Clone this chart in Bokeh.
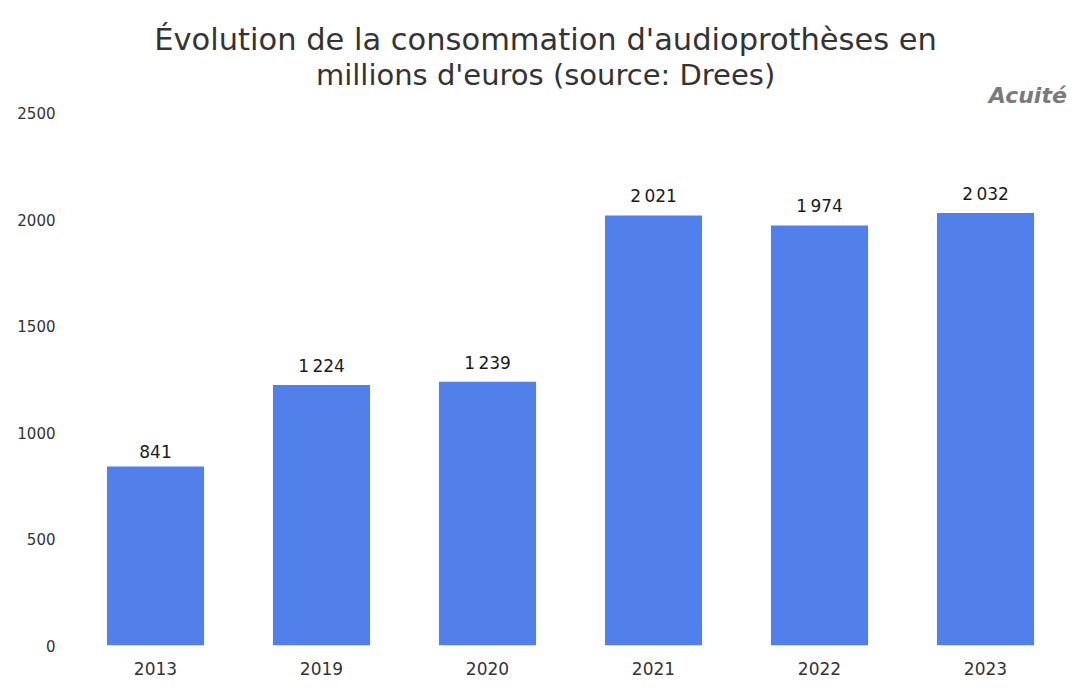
from bokeh.plotting import figure
from bokeh.models import ColumnDataSource, FactorRange, Range1d, FixedTicker
from bokeh.core.properties import value
from bokeh.embed import file_html
from bokeh.resources import INLINE

years = ["2013", "2019", "2020", "2021", "2022", "2023"]
values = [841, 1224, 1239, 2021, 1974, 2032]
labels = [f"{v:,}".replace(",", "\u202f") for v in values]
y_ticks = [0, 500, 1000, 1500, 2000, 2500]
title_line1 = "Évolution de la consommation d'audioprothèses en"
title_line2 = "millions d'euros (source: Drees)"
brand = "Acuité"

FONT = "DejaVu Sans"
BAR = "#5280EA"

# frame covers the full height; ticks stop at 2500, the top part holds the titles
Y_TOP = 3031

src = ColumnDataSource(dict(x=years, top=values, lab=labels))

p = figure(x_range=FactorRange(*years), y_range=Range1d(0, Y_TOP),
           width=1088, height=690, output_backend="svg", toolbar_location=None,
           min_border_left=72, min_border_right=20, min_border_top=0, min_border_bottom=45)
p.outline_line_color = None
p.background_fill_color = "white"
p.border_fill_color = "white"
p.xgrid.grid_line_color = None
p.ygrid.grid_line_color = None

p.vbar(x="x", top="top", width=0.585, source=src, fill_color=BAR, line_color=None)
p.text(x="x", y="top", text="lab", source=src, text_align="center", text_baseline="bottom",
       y_offset=-9, text_font=value(FONT), text_font_size="17px", text_color="#1a1a1a")

for ax in (p.xaxis, p.yaxis):
    ax.axis_line_color = None
    ax.major_tick_line_color = None
    ax.minor_tick_line_color = None
    ax.major_label_text_font = FONT
    ax.major_label_text_color = "#333333"
p.yaxis.ticker = FixedTicker(ticks=y_ticks)
p.yaxis.major_label_text_font_size = "15px"
p.yaxis.major_label_standoff = 11
p.xaxis.major_label_text_font_size = "17px"
p.xaxis.major_label_standoff = 10

p.text(x=[2.85], y=[2848], text=[title_line1], text_align="center",
       text_baseline="middle", text_font=value(FONT), text_font_size="30.5px",
       text_color="#333333")
p.text(x=[2.85], y=[2682], text=[title_line2], text_align="center",
       text_baseline="middle", text_font=value(FONT), text_font_size="29px",
       text_color="#333333")
p.text(x=[5.99], y=[2584], text=[brand], text_align="right", text_baseline="middle",
       text_font=value("DejaVu Sans"), text_font_style="bold italic",
       text_font_size="22px", text_color="#7a7a7a")

open("out.html", "w").write(file_html(p, INLINE))
